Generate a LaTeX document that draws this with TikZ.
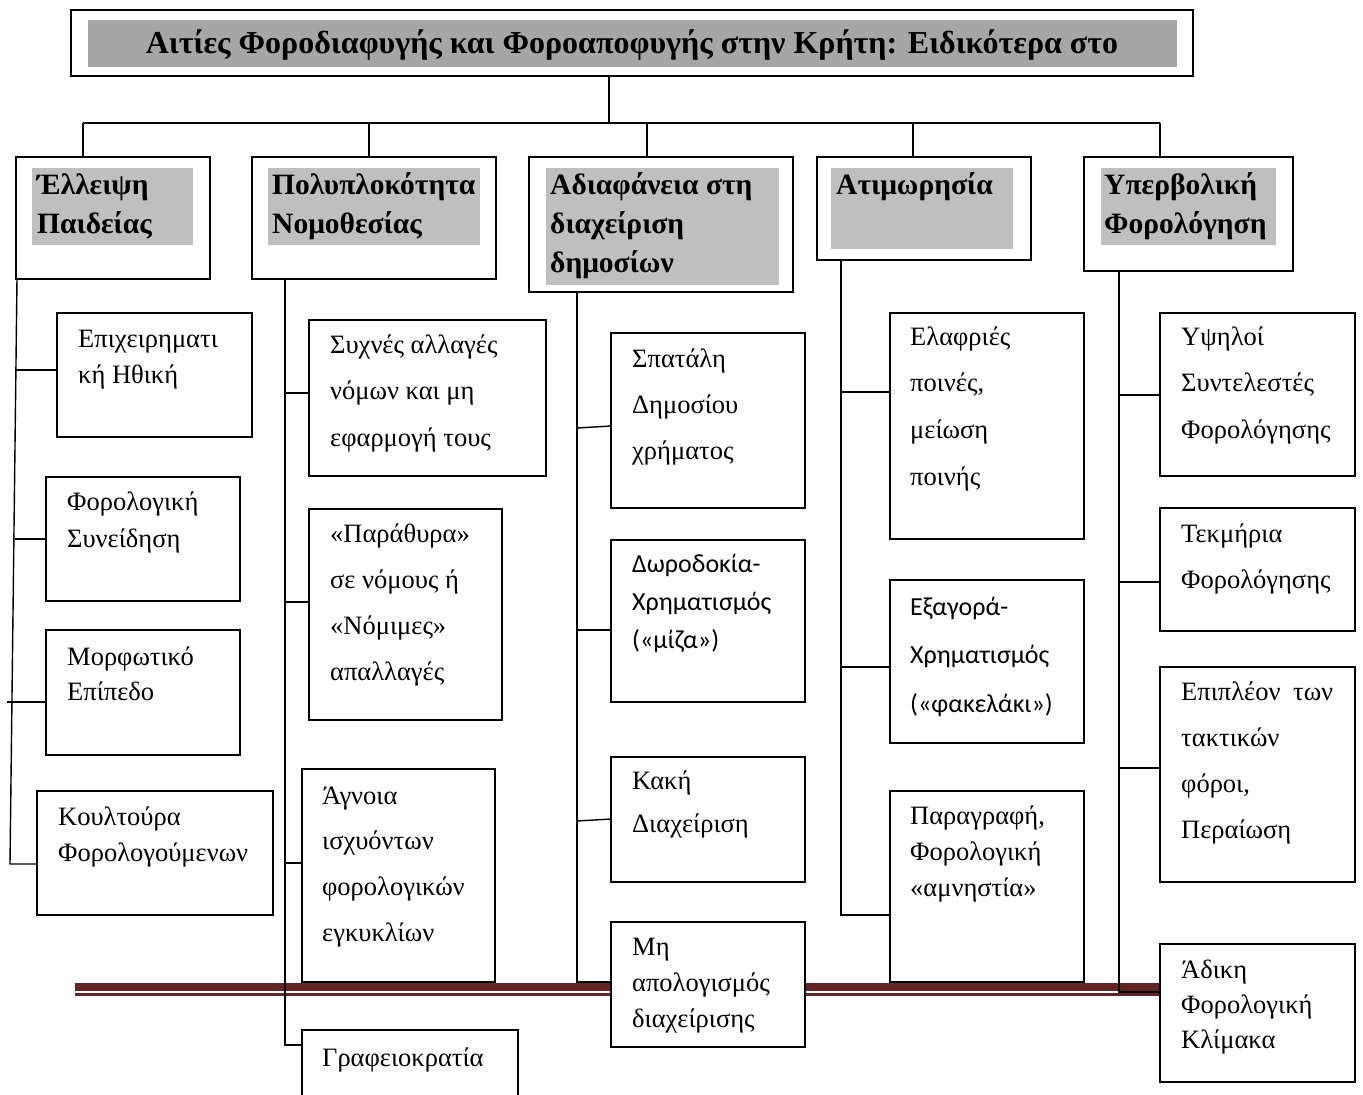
\documentclass[tikz,border=0pt]{standalone}
\usepackage{fontspec}
\setmainfont{Liberation Serif}
\newfontfamily\calib{Carlito}
\usetikzlibrary{calc}
\definecolor{tgray}{RGB}{166,166,166}
\definecolor{hgray}{RGB}{191,191,191}
\definecolor{dred}{RGB}{99,36,35}
\newcommand\bodystrut{\rule{0pt}{19pt}}
\newcommand\headstrut{\rule{0pt}{22pt}}
\begin{document}
\begin{tikzpicture}[x=1pt,y=-1pt,
  box/.style={draw=black, line width=1.4pt, fill=white, anchor=north west, inner sep=0pt, outer sep=0pt},
  gbox/.style={fill=hgray, draw=none, anchor=north west, inner sep=0pt, outer sep=0pt},
  txt/.style={anchor=north west, inner sep=0pt, align=left, font=\fontsize{26.5}{#1}\selectfont},
  stxt/.style={txt=#1, font=\calib\fontsize{26}{#1}\selectfont},
  htxt/.style={anchor=north west, inner sep=0pt, align=left, font=\bfseries\fontsize{29.5}{39}\selectfont},
  conn/.style={line width=1.4pt}]
\useasboundingbox (0,0) rectangle (1363,1095);
\clip (0,0) rectangle (1363,1095);
\fill[white] (0,0) rectangle (1363,1095);

% dark red double rule
\fill[dred] (75,983) rectangle (1160,991);
\fill[dred] (75,993) rectangle (1160,995.5);

% title
\node[box, minimum width=1122pt, minimum height=66pt] (title) at (71,10) {};
\node[gbox, fill=tgray, minimum width=1089pt, minimum height=47pt] (titleg) at (88,20) {};
\node[anchor=base, inner sep=0pt, font=\bfseries\fontsize{32}{38}\selectfont] (titlet) at (632,53) {Αιτίες Φοροδιαφυγής και Φοροαποφυγής στην Κρήτη: Ειδικότερα στο};

% headers
\node[box, minimum width=194pt, minimum height=122pt] (h1) at (16,157) {};
\node[gbox, minimum width=161pt, minimum height=77pt] (g1) at (32,168) {};
\node[htxt] (h1t) at (37,172) {\headstrut Έλλειψη\\Παιδείας};

\node[box, minimum width=244pt, minimum height=122pt] (h2) at (252,157) {};
\node[gbox, minimum width=212pt, minimum height=77pt] (g2) at (268,168) {};
\node[htxt] (h2t) at (272,172) {\headstrut Πολυπλοκότητα\\Νομοθεσίας};

\node[box, minimum width=264pt, minimum height=135pt] (h3) at (529,157) {};
\node[gbox, minimum width=233pt, minimum height=117pt] (g3) at (546,168) {};
\node[htxt] (h3t) at (550,172) {\headstrut Αδιαφάνεια στη\\διαχείριση\\δημοσίων};

\node[box, minimum width=214pt, minimum height=103pt] (h4) at (817,157) {};
\node[gbox, minimum width=182pt, minimum height=81pt] (g4) at (831,168) {};
\node[htxt] (h4t) at (836,172) {\headstrut Ατιμωρησία};

\node[box, minimum width=209pt, minimum height=114pt] (h5) at (1084,157) {};
\node[gbox, minimum width=175pt, minimum height=77pt] (g5) at (1101,168) {};
\node[htxt] (h5t) at (1104,172) {\headstrut Υπερβολική\\Φορολόγηση};

% column 1
\node[box, minimum width=195pt, minimum height=124pt] (e11) at (57,313) {};
\node[txt=36] (e11t) at (78,328) {\bodystrut Επιχειρηματι\\κή Ηθική};
\node[box, minimum width=194pt, minimum height=124pt] (e12) at (46,477) {};
\node[txt=37] (e12t) at (67,491) {\bodystrut Φορολογική\\Συνείδηση};
\node[box, minimum width=194pt, minimum height=125pt] (e13) at (46,630) {};
\node[txt=35] (e13t) at (67,646) {\bodystrut Μορφωτικό\\Επίπεδο};
\node[box, minimum width=236pt, minimum height=124pt] (e14) at (37,791) {};
\node[txt=36] (e14t) at (58,806) {\bodystrut Κουλτούρα\\Φορολογούμενων};

% column 2
\node[box, minimum width=237pt, minimum height=156pt] (p1) at (309,320) {};
\node[txt=46.5] (p1t) at (330,334) {\bodystrut Συχνές αλλαγές\\νόμων και μη\\εφαρμογή τους};
\node[box, minimum width=193pt, minimum height=211pt] (p2) at (309,509) {};
\node[txt=46] (p2t) at (330,523) {\bodystrut «Παράθυρα»\\σε νόμους ή\\«Νόμιμες»\\απαλλαγές};
\node[box, minimum width=193pt, minimum height=213pt] (p3) at (302,769) {};
\node[txt=45.7] (p3t) at (322,785) {\bodystrut Άγνοια\\ισχυόντων\\φορολογικών\\εγκυκλίων};
\node[box, minimum width=216pt, minimum height=90pt] (p4) at (302,1030) {};
\node[txt=36] (p4t) at (322,1047) {\bodystrut Γραφειοκρατία};

% column 3
\node[box, minimum width=194pt, minimum height=175pt] (a1) at (611,333) {};
\node[txt=46] (a1t) at (632,348) {\bodystrut Σπατάλη\\Δημοσίου\\χρήματος};
\node[box, minimum width=194pt, minimum height=162pt] (a2) at (611,540) {};
\node[stxt=38] (a2t) at (632,553) {\bodystrut Δωροδοκία-\\Χρηματισμός\\(«μίζα»)};
\node[box, minimum width=194pt, minimum height=125pt] (a3) at (611,757) {};
\node[txt=43] (a3t) at (632,770) {\bodystrut Κακή\\Διαχείριση};
\node[box, minimum width=194pt, minimum height=125pt] (a4) at (611,922) {};
\node[txt=36] (a4t) at (632,936) {\bodystrut Μη\\απολογισμός\\διαχείρισης};

% column 4
\node[box, minimum width=194pt, minimum height=226pt] (t1) at (890,313) {};
\node[txt=46.7] (t1t) at (910,326) {\bodystrut Ελαφριές\\ποινές,\\μείωση\\ποινής};
\node[box, minimum width=194pt, minimum height=163pt] (t2) at (890,580) {};
\node[stxt=48.5] (t2t) at (910,596) {\bodystrut Εξαγορά-\\Χρηματισμός\\(«φακελάκι»)};
\node[box, minimum width=194pt, minimum height=191pt] (t3) at (890,791) {};
\node[txt=36] (t3t) at (910,805) {\bodystrut Παραγραφή,\\Φορολογική\\«αμνηστία»};

% column 5
\node[box, minimum width=195pt, minimum height=163pt] (y1) at (1160,313) {};
\node[txt=46.5] (y1t) at (1181,326) {\bodystrut Υψηλοί\\Συντελεστές\\Φορολόγησης};
\node[box, minimum width=195pt, minimum height=123pt] (y2) at (1160,508) {};
\node[txt=46] (y2t) at (1181,523) {\bodystrut Τεκμήρια\\Φορολόγησης};
\node[box, minimum width=195pt, minimum height=215pt] (y3) at (1160,667) {};
\node[txt=46] (y3t) at (1181,681) {\bodystrut\hbox to 152pt{Επιπλέον\hfil των}\\τακτικών\\φόροι,\\Περαίωση};
\node[box, minimum width=195pt, minimum height=138pt] (y4) at (1160,944) {};
\node[txt=35] (y4t) at (1181,959) {\bodystrut Άδικη\\Φορολογική\\Κλίμακα};

% top connectors
\coordinate (busT) at (609,123);
\coordinate (busL) at (83,123);
\coordinate (busR) at (1160,123);
\coordinate (d2) at (369,123);
\coordinate (d3) at (647,123);
\coordinate (d4) at (913,123);
\draw[conn] (title.south -| busT) -- (busT);
\draw[conn] (busL) -- (busR);
\draw[conn] (busL) -- (busL |- h1.north);
\draw[conn] (d2) -- (d2 |- h2.north);
\draw[conn] (d3) -- (d3 |- h3.north);
\draw[conn] (d4) -- (d4 |- h4.north);
\draw[conn] (busR) -- (busR |- h5.north);

% column 1 connectors
\coordinate (c1a) at (17,279);
\coordinate (c1b) at (10,864);
\draw[conn] (c1a) -- (c1b) -- (c1b -| e14.west);
\coordinate (k11) at (16,370);
\coordinate (k12) at (15,539);
\coordinate (k13) at (7,702);
\draw[conn] (k11) -- (k11 -| e11.west);
\draw[conn] (k12) -- (k12 -| e12.west);
\draw[conn] (k13) -- (k13 -| e13.west);

% column 2 connectors
\coordinate (c2b) at (285,1045);
\draw[conn] (h2.south -| c2b) -- (c2b) -- (c2b -| p4.west);
\coordinate (k21) at (285,393);
\coordinate (k22) at (285,602);
\coordinate (k23) at (285,863);
\draw[conn] (k21) -- (k21 -| p1.west);
\draw[conn] (k22) -- (k22 -| p2.west);
\draw[conn] (k23) -- (k23 -| p3.west);

% column 3 connectors
\coordinate (c3b) at (577,982);
\draw[conn] (h3.south -| c3b) -- (c3b) -- (c3b -| a4.west);
\coordinate (k31) at (577,428);
\coordinate (k32) at (577,630);
\coordinate (k33) at (577,821);
\draw[conn] (k31) -- ($(k31 -| a1.west)+(0,-2)$);
\draw[conn] (k32) -- (k32 -| a2.west);
\draw[conn] (k33) -- ($(k33 -| a3.west)+(0,-2)$);

% column 4 connectors
\coordinate (c4b) at (841,915);
\draw[conn] (h4.south -| c4b) -- (c4b) -- (c4b -| t3.west);
\coordinate (k41) at (841,392);
\coordinate (k42) at (841,667);
\draw[conn] (k41) -- (k41 -| t1.west);
\draw[conn] (k42) -- (k42 -| t2.west);

% column 5 connectors
\coordinate (c5b) at (1119,992);
\draw[conn] (h5.south -| c5b) -- (c5b) -- (c5b -| y4.west);
\coordinate (k51) at (1119,395);
\coordinate (k52) at (1119,582);
\coordinate (k53) at (1119,768);
\draw[conn] (k51) -- (k51 -| y1.west);
\draw[conn] (k52) -- (k52 -| y2.west);
\draw[conn] (k53) -- (k53 -| y3.west);
\end{tikzpicture}
\end{document}
